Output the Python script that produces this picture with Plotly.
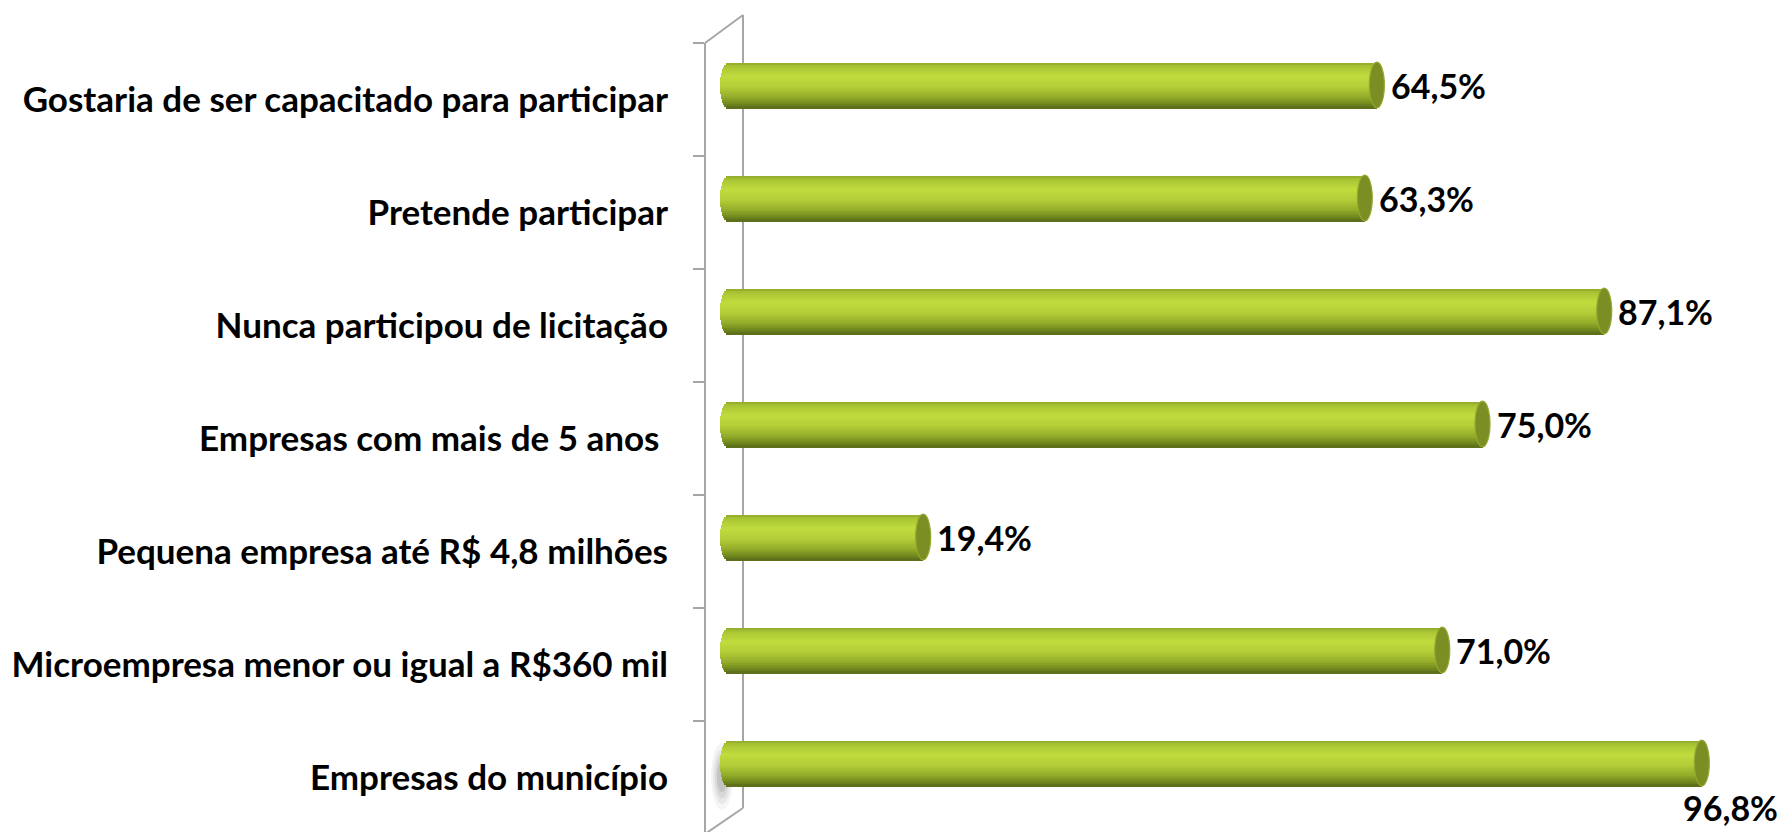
import math
import plotly.graph_objects as go

# ---------------- data ----------------
categories = [
    "Gostaria de ser capacitado para participar",
    "Pretende participar",
    "Nunca participou de licitação",
    "Empresas com mais de 5 anos ",
    "Pequena empresa até R$ 4,8 milhões",
    "Microempresa menor ou igual a R$360 mil",
    "Empresas do município",
]
values = [64.5, 63.3, 87.1, 75.0, 19.4, 71.0, 96.8]
value_labels = ["64,5%", "63,3%", "87,1%", "75,0%", "19,4%", "71,0%", "96,8%"]

# ---------------- style ----------------
W_FIG, H_FIG = 1785, 832
X0_PX = 728            # pixel where value 0 sits
XDOM_PX = 706          # left edge of the bar subplot area
PX_PER_UNIT = 10.06    # pixels per percentage point
X_MAX = (W_FIG - X0_PX) / PX_PER_UNIT
X_MIN = -(X0_PX - XDOM_PX) / PX_PER_UNIT
FONT = "Lato"
WALL = "#a6a6a6"
BAR_W = 0.405          # bar thickness (category units)
CAP_HALF = 7.5 / PX_PER_UNIT
LEFT_CAP_HALF = 8.0 / PX_PER_UNIT

grad_stops = [
    (0.00, (0x8e, 0xa7, 0x2a)),
    (0.08, (0xa9, 0xc6, 0x34)),
    (0.32, (0xc0, 0xdc, 0x3e)),
    (0.52, (0xb2, 0xcd, 0x37)),
    (0.75, (0x93, 0xad, 0x2a)),
    (0.90, (0x72, 0x8a, 0x1e)),
    (1.00, (0x58, 0x69, 0x1a)),
]


def grad_color(t):
    for (t0, c0), (t1, c1) in zip(grad_stops[:-1], grad_stops[1:]):
        if t0 <= t <= t1:
            f = (t - t0) / (t1 - t0) if t1 > t0 else 0
            c = [round(a + (b - a) * f) for a, b in zip(c0, c1)]
            return "rgb(%d,%d,%d)" % tuple(c)
    return "rgb(%d,%d,%d)" % grad_stops[-1][1]


def px_x(p):
    return p / W_FIG


def px_y(p):
    return 1 - p / H_FIG


fig = go.Figure()

# cylinder body: stacked horizontal stripes forming a vertical gradient,
# each stripe starting a little left of zero so the left end looks rounded
N = 22
w = BAR_W / N
for i in range(N):
    t = (i + 0.5) / N
    e = LEFT_CAP_HALF * math.sqrt(max(0.0, 1 - (2 * t - 1) ** 2))
    fig.add_trace(go.Bar(
        x=[v + e for v in values], y=categories, orientation="h", base=-e,
        width=w * 1.25, offset=-BAR_W / 2 + i * w,
        marker=dict(color=grad_color(t), line=dict(width=0)),
        hoverinfo="skip", showlegend=False,
        xaxis="x", yaxis="y",
    ))

# invisible trace carrying the category labels on the front wall axis
fig.add_trace(go.Scatter(
    x=[0] * len(categories), y=categories, mode="markers",
    marker=dict(opacity=0), hoverinfo="skip", showlegend=False,
    xaxis="x", yaxis="y2",
))

shapes = []
# wall outline (depth edges)
shapes += [
    dict(type="line", xref="paper", yref="paper", x0=px_x(743), y0=px_y(15), x1=px_x(743), y1=px_y(808),
         line=dict(color=WALL, width=2), layer="below"),
    dict(type="line", xref="paper", yref="paper", x0=px_x(705), y0=px_y(43), x1=px_x(743), y1=px_y(15),
         line=dict(color=WALL, width=2), layer="below"),
    dict(type="line", xref="paper", yref="paper", x0=px_x(705), y0=px_y(834), x1=px_x(743), y1=px_y(808),
         line=dict(color=WALL, width=2), layer="below"),
]
# soft shadow on the wall behind the last bar
for k, op in enumerate([0.05, 0.07, 0.09, 0.12]):
    shapes.append(dict(type="circle", xref="paper", yref="paper",
                       x0=px_x(711 + k * 2), x1=px_x(733 - k * 2),
                       y0=px_y(743 + k * 6), y1=px_y(810 - k * 6),
                       fillcolor="rgba(60,60,60,%.2f)" % op, line=dict(width=0), layer="below"))

for idx, v in enumerate(values):
    # right end cap
    shapes.append(dict(type="circle", xref="x", yref="y",
                       x0=v - CAP_HALF, x1=v + CAP_HALF, y0=idx - BAR_W / 2, y1=idx + BAR_W / 2,
                       fillcolor="#7b8e24", line=dict(color="#93aa30", width=1.2), layer="above"))

VAL_FONT = dict(family=FONT, size=34, color="black", weight="bold")
annotations = []
for idx, (v, lab) in enumerate(zip(values, value_labels)):
    fits = (v * PX_PER_UNIT + X0_PX + 13 + 95) <= W_FIG
    if fits:
        annotations.append(dict(x=v, y=categories[idx], xref="x", yref="y", text=lab,
                                xanchor="left", yanchor="middle", xshift=12, showarrow=False,
                                font=VAL_FONT))
    else:
        annotations.append(dict(x=1, y=categories[idx], xref="paper", yref="y", text=lab,
                                xanchor="right", yanchor="middle", xshift=-5, yshift=-44, showarrow=False,
                                font=VAL_FONT))

fig.update_layout(
    width=W_FIG, height=H_FIG,
    margin=dict(l=0, r=0, t=0, b=0),
    paper_bgcolor="white", plot_bgcolor="rgba(0,0,0,0)",
    barmode="overlay", bargap=0,
    showlegend=False,
    shapes=shapes, annotations=annotations,
    xaxis=dict(domain=[px_x(XDOM_PX), 1], range=[X_MIN, X_MAX], visible=False, fixedrange=True),
    yaxis=dict(domain=[1 - 819.5 / H_FIG, 1 - 28.5 / H_FIG], range=[6.5, -0.5], visible=False,
               categoryorder="array", categoryarray=categories, anchor="x"),
    yaxis2=dict(domain=[0, 1 - 43 / H_FIG], range=[6.48, -0.5], anchor="free", position=px_x(705),
                categoryorder="array", categoryarray=categories,
                showline=True, linecolor=WALL, linewidth=2,
                ticks="outside", ticklen=11, tickcolor=WALL, tickwidth=2, tickson="boundaries",
                ticklabelstandoff=29, showgrid=False, zeroline=False,
                tickfont=dict(family=FONT, size=35, color="black", weight="bold")),
)

fig.write_html("out.html", config={"displayModeBar": False},
               post_script="document.body.style.margin='0';document.body.style.overflow='hidden';")
